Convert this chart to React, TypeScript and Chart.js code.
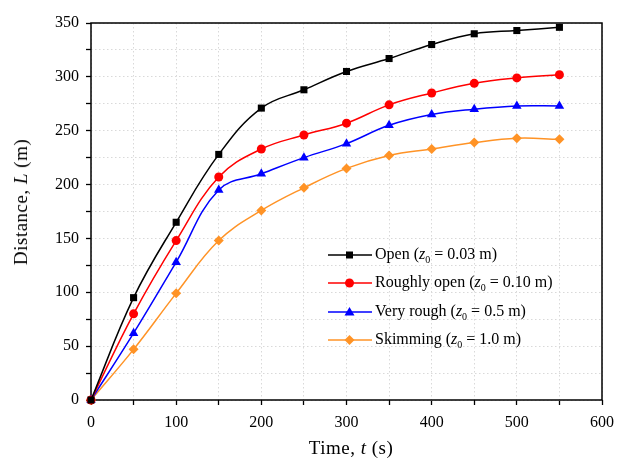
import React, { useEffect, useRef } from "react";
import { Chart, registerables } from "chart.js";

Chart.register(...registerables);

const times = [0, 50, 100, 150, 200, 250, 300, 350, 400, 450, 500, 550];
const openL = [0, 95, 165, 228, 271, 288, 305, 317, 330, 340, 343, 346];
const roughlyOpenL = [0, 80, 148, 207, 233, 246, 257, 274, 285, 294, 299, 302];
const veryRoughL = [0, 62, 128, 195, 210, 225, 238, 255, 265, 270, 273, 273];
const skimmingL = [0, 47, 99, 148, 176, 197, 215, 227, 233, 239, 243, 242];

const seriesNames = ["Open", "Roughly open", "Very rough", "Skimming"];
const seriesZ0 = ["0.03", "0.10", "0.5", "1.0"];
const seriesColors = ["#000000", "#ff0000", "#0000ff", "#ff9326"];
const seriesShapes = ["rect", "circle", "triangle", "rectRot"];
const seriesValues = [openL, roughlyOpenL, veryRoughL, skimmingL];
const seriesRadius = [5, 4.5, 5.5, 5];

const FONT = "'Liberation Serif', 'Times New Roman', serif";

const framePlugin = {
  id: "frame",
  beforeDatasetsDraw(chart: any) {
    const { ctx, chartArea } = chart;
    const { left, top, right, bottom } = chartArea;
    ctx.save();
    ctx.strokeStyle = "#000";
    ctx.lineWidth = 1.5;
    ctx.strokeRect(left, top, right - left, bottom - top);
    ctx.restore();
  },
};

function Marker({ shape, color }: { shape: string; color: string }) {
  let m: any = null;
  if (shape === "rect") m = <rect x={18} y={2.5} width={7} height={7} fill={color} />;
  if (shape === "circle") m = <circle cx={21.5} cy={6} r={4.5} fill={color} />;
  if (shape === "triangle") m = <polygon points="21.5,1 26.5,9.5 16.5,9.5" fill={color} />;
  if (shape === "rectRot") m = <polygon points="21.5,1 26.5,6 21.5,11 16.5,6" fill={color} />;
  return (
    <svg width={44} height={12} style={{ display: "block" }}>
      <line x1={0} y1={6} x2={44} y2={6} stroke={color} strokeWidth={1.5} />
      {m}
    </svg>
  );
}

export default function App() {
  const canvasRef = useRef<HTMLCanvasElement | null>(null);

  useEffect(() => {
    const canvas = canvasRef.current;
    if (!canvas) return;
    const tickFont = { family: FONT, size: 16 };
    const gridOpts = {
      color: "#d9d9d9",
      lineWidth: 1,
      tickColor: "#000",
      tickLength: 5,
      tickWidth: 1.3,
    };
    const chart = new Chart(canvas, {
      type: "line",
      data: {
        datasets: seriesValues.map((vals, i) => ({
          label: seriesNames[i],
          data: times.map((t, j) => ({ x: t, y: vals[j] })),
          borderColor: seriesColors[i],
          backgroundColor: seriesColors[i],
          borderWidth: 1.5,
          pointStyle: seriesShapes[i] as any,
          pointRadius: seriesRadius[i],
          pointBorderWidth: 0,
          tension: 0.4,
          fill: false,
          clip: false as any,
        })),
      },
      options: {
        responsive: false,
        animation: false,
        layout: { padding: { top: 23, right: 15, left: 0, bottom: 0 } },
        plugins: { legend: { display: false }, tooltip: { enabled: false } },
        scales: {
          x: {
            type: "linear",
            min: 0,
            max: 600,
            afterFit: (s: any) => {
              s.height = 59;
              s.paddingLeft = 0;
              s.paddingRight = 0;
            },
            ticks: {
              stepSize: 50,
              autoSkip: false,
              maxRotation: 0,
              color: "#000",
              font: tickFont,
              padding: 8,
              callback: (v: any) => (Number(v) % 100 === 0 ? String(v) : ""),
            },
            grid: gridOpts,
            border: { display: false, dash: [1.5, 2.5] },
          },
          y: {
            type: "linear",
            min: 0,
            max: 350,
            afterFit: (s: any) => {
              s.width = 91;
              s.paddingTop = 0;
              s.paddingBottom = 0;
            },
            ticks: {
              stepSize: 25,
              autoSkip: false,
              color: "#000",
              font: tickFont,
              padding: 7,
              callback: (v: any) => (Number(v) % 50 === 0 ? String(v) : ""),
            },
            grid: gridOpts,
            border: { display: false, dash: [1.5, 2.5] },
          },
        },
      },
      plugins: [framePlugin],
    });
    return () => chart.destroy();
  }, []);

  const legendCenters = [255, 283, 311.5, 340];

  return (
    <div
      style={{
        position: "fixed",
        left: 0,
        top: 0,
        width: 617,
        height: 459,
        background: "#fff",
        fontFamily: FONT,
        color: "#000",
      }}
    >
      <canvas ref={canvasRef} width={617} height={459} style={{ display: "block" }} />
      <div
        style={{
          position: "absolute",
          left: 21,
          top: 202,
          transform: "translate(-50%, -50%) rotate(-90deg)",
          whiteSpace: "nowrap",
          fontSize: 19,
          letterSpacing: 0.5,
        }}
      >
        Distance, <i>L</i> (m)
      </div>
      <div
        style={{
          position: "absolute",
          left: 351,
          top: 448,
          transform: "translate(-50%, -50%)",
          whiteSpace: "nowrap",
          fontSize: 19,
          letterSpacing: 0.5,
        }}
      >
        Time, <i>t</i> (s)
      </div>
      {seriesNames.map((name, i) => (
        <div
          key={name}
          style={{
            position: "absolute",
            left: 328,
            top: legendCenters[i],
            transform: "translateY(-50%)",
            display: "flex",
            alignItems: "center",
            whiteSpace: "nowrap",
            fontSize: 16,
          }}
        >
          <Marker shape={seriesShapes[i]} color={seriesColors[i]} />
          <span style={{ marginLeft: 3 }}>
            {name} (<i>z</i>
            <sub style={{ fontSize: 10, verticalAlign: -4 }}>0</sub> = {seriesZ0[i]} m)
          </span>
        </div>
      ))}
    </div>
  );
}
